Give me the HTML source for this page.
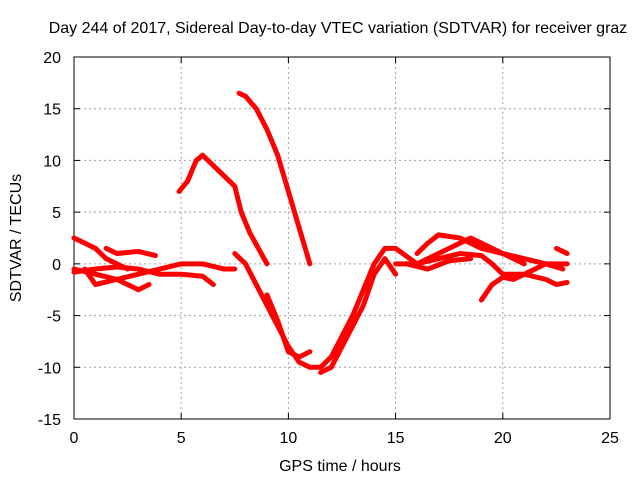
<!DOCTYPE html>
<html><head><meta charset="utf-8"><style>
body{margin:0;background:#fff}
svg text{font-family:"Liberation Sans",sans-serif;font-size:16px;fill:#000}
</style></head><body>
<svg width="640" height="480" xmlns="http://www.w3.org/2000/svg">
<rect width="640" height="480" fill="#fff"/>
<g id="grid"></g>
<g id="axes"></g>
<g id="series"></g>
<text x="338" y="33" text-anchor="middle">Day 244 of 2017, Sidereal Day-to-day VTEC variation (SDTVAR) for receiver graz</text>
<text x="340" y="471" text-anchor="middle">GPS time / hours</text>
<text transform="translate(21,238) rotate(-90)" text-anchor="middle">SDTVAR / TECUs</text>
</svg>
<script>
const xTicks=[0,5,10,15,20,25];
const yTicks=[-15,-10,-5,0,5,10,15,20];
const trackA=[[7.7,16.5],[8,16.2],[8.5,15],[9,13],[9.5,10.5],[10,7],[10.5,3.5],[11,0]];
const trackB=[[4.9,7],[5.3,8],[5.7,10],[6,10.5],[6.5,9.5],[7,8.5],[7.5,7.5],[7.8,5],[8.2,3],[8.6,1.5],[9,0]];
const trackC=[[0,2.5],[0.5,2],[1,1.5],[1.5,0.5],[2,0],[2.5,-0.5]];
const trackD=[[7.5,1],[8,0],[8.5,-2],[9,-4],[9.5,-6],[10,-8],[10.5,-9.5],[11,-10],[11.5,-10],[12,-9],[12.5,-7],[13,-5],[13.5,-2.5],[14,0],[14.5,1.5],[15,1.5]];
const trackE=[[9,-3],[9.5,-5.5],[10,-8.5],[10.5,-9],[11,-8.5]];
const trackF=[[11.5,-10.5],[12,-10],[12.5,-8],[13,-6],[13.5,-4],[14,-1],[14.5,0.5],[15,-1]];
const trackG=[[0,-0.5],[1,-1],[2,-1.5],[3,-1],[4,-0.5],[5,0],[6,0],[7,-0.5],[7.5,-0.5]];
const trackH=[[0.5,-0.5],[1,-2],[2,-1.5],[3,-2.5],[3.5,-2]];
const trackI=[[1.5,1.5],[2,1],[3,1.2],[3.8,0.8]];
const trackJ=[[0,-0.8],[1,-0.5],[2,-0.3],[3,-0.5],[4,-1],[5,-1],[6,-1.2],[6.5,-2]];
const trackK=[[15,0],[16,0],[17,0.5],[18,1],[19,0.8],[19.5,0],[20,-1],[21,-1],[22,0],[22.8,-0.5]];
const trackL=[[16,1],[16.5,2],[17,2.8],[18,2.5],[19,1.5],[20,1],[21,0.5],[22,0],[23,0]];
const trackM=[[15,1.5],[16,0],[17,1],[18,2],[18.5,2.5],[19,2],[20,1],[21,0]];
const trackN=[[19,-3.5],[19.5,-2],[20,-1.3],[20.5,-1.5],[21,-1],[22,-1.5],[22.5,-2],[23,-1.8]];
const trackO=[[22.5,1.5],[23,1]];
const trackP=[[15.5,0],[16.5,-0.5],[17.5,0.3],[18.5,0.5]];
const tracks=[trackA,trackB,trackC,trackD,trackE,trackF,trackG,trackH,trackI,trackJ,trackK,trackL,trackM,trackN,trackO,trackP];
const X0=74,X1=610,Y0=419,Y1=57;
const xs=v=>X0+(v-0)/(25-0)*(X1-X0);
const ys=v=>Y0-(v+15)/(35)*(Y0-Y1);
const NS="http://www.w3.org/2000/svg";
function mk(t,a,p){const e=document.createElementNS(NS,t);for(const k in a)e.setAttribute(k,a[k]);p.appendChild(e);return e;}
const grid=document.getElementById('grid'),axes=document.getElementById('axes'),ser=document.getElementById('series');
xTicks.forEach(t=>{const x=xs(t);
 if(t>0&&t<25){const l=mk('line',{x1:x,x2:x,y1:Y0,y2:Y1,stroke:'#a0a0a0','stroke-dasharray':'2,3','stroke-width':1},grid);}
 mk('line',{x1:x,x2:x,y1:Y0,y2:Y0-6,stroke:'#000'},axes);mk('line',{x1:x,x2:x,y1:Y1,y2:Y1+6,stroke:'#000'},axes);
 const tx=mk('text',{x:x,y:Y0+24,'text-anchor':'middle'},axes);tx.textContent=t;
 });
yTicks.forEach(t=>{const y=ys(t);
 if(t>-15&&t<20){const l=mk('line',{x1:X0,x2:X1,y1:y,y2:y,stroke:'#a0a0a0','stroke-dasharray':'2,3','stroke-width':1},grid);}
 mk('line',{x1:X0,x2:X0+6,y1:y,y2:y,stroke:'#000'},axes);mk('line',{x1:X1,x2:X1-6,y1:y,y2:y,stroke:'#000'},axes);
 const tx=mk('text',{x:X0-13,y:y+6,'text-anchor':'end'},axes);tx.textContent=t;
 });
const fr=mk('rect',{x:X0,y:Y1,width:X1-X0,height:Y0-Y1,fill:'none',stroke:'#000'},axes);

tracks.forEach(tr=>{const p=mk('polyline',{points:tr.map(d=>xs(d[0])+','+ys(d[1])).join(' '),fill:'none',stroke:'#f00','stroke-width':5,'stroke-linejoin':'round','stroke-linecap':'round'},ser);
 
 });
</script>
</body></html>
